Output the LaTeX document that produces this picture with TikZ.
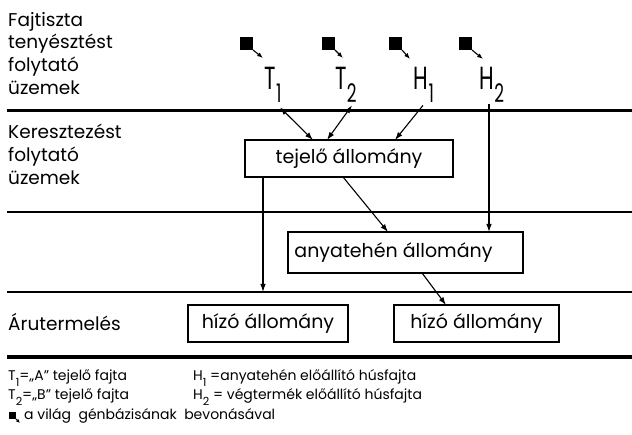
\documentclass[tikz,border=0pt]{standalone}
\usepackage{fontspec}
\setmainfont{Poppins}
\newfontfamily\labfont[FakeStretch=0.66]{Poppins}
\usetikzlibrary{arrows.meta,calc}
\newcommand\dsub[1]{\raisebox{-0.38em}{\scalebox{0.8}{#1}}}
\begin{document}
\begin{tikzpicture}[x=1pt,y=-1pt,
  sect/.style={font=\fontsize{18.5}{22.7}\selectfont, align=left, anchor=north west, inner sep=0},
  box/.style={draw, line width=1.4pt, font=\fontsize{19}{22}\selectfont, inner sep=0, outer sep=0, anchor=north west},
  sq/.style={fill=black, draw=none, minimum size=13pt, inner sep=0, outer sep=0},
  lab/.style={font=\labfont\fontsize{32}{32}\selectfont, inner sep=0, anchor=base},
  leg/.style={font=\fontsize{14}{16}\selectfont, inner sep=0, anchor=base west},
  arr/.style={line width=1.1pt, -{Latex[length=8pt,width=5.5pt]}},
  darr/.style={line width=1.1pt, {Latex[length=8pt,width=5.5pt]}-{Latex[length=8pt,width=5.5pt]}},
  sarr/.style={line width=1.1pt, -{Latex[length=6pt,width=4.5pt]}},
  thick rule/.style={line width=3pt},
  thin rule/.style={line width=1.7pt}]
\useasboundingbox (0,0) rectangle (632,435);

% section labels
\node[sect] (sec1) at (8,12) {Fajtiszta\\tenyésztést\\folytató\\üzemek};
\node[sect] (sec2) at (8,124) {Keresztezést\\folytató\\üzemek};
\node[sect, anchor=base west] (sec3) at (8,331) {Árutermelés};

% rules
\draw[thick rule] (7,111) -- (632,111);
\draw[thin rule] (7,212) -- (632,212);
\draw[thin rule] (7,292) -- (632,292);
\draw[line width=3.5pt] (7,357) -- (632,357);

% breed squares and labels
\node[sq] (s1) at (246.5,43.5) {};
\node[sq] (s2) at (328.5,43.5) {};
\node[sq] (s3) at (395.5,43.5) {};
\node[sq] (s4) at (465.5,43.5) {};
\node[lab] (t1) at (273,90) {T\dsub{1}};
\node[lab] (t2) at (346,90) {T\dsub{2}};
\node[lab] (h1) at (424,90) {H\dsub{1}};
\node[lab] (h2) at (492,90) {H\dsub{2}};
\draw[sarr] (s1.south east) -- ($(s1.south east)+(10,8)$);
\draw[sarr] (s2.south east) -- ($(s2.south east)+(8,8)$);
\draw[sarr] (s3.south east) -- ($(s3.south east)+(8,9)$);
\draw[sarr] (s4.south east) -- ($(s4.south east)+(11,9)$);

% boxes
\node[box, minimum width=208pt, minimum height=37pt] (tej) at (245,140) {tejelő állomány};
\node[box, minimum width=235pt, minimum height=41pt] (anya) at (288,232) {\hspace*{-24pt}anyatehén állomány};
\node[box, minimum width=160pt, minimum height=37pt] (hiz1) at (188,305) {hízó állomány};
\node[box, minimum width=165pt, minimum height=37pt] (hiz2) at (394,305) {hízó állomány};
\coordinate (mkt) at (263,292);

% connectors
\draw[darr] ($(t1.south)+(7,5)$) -- ($(tej.north west)+(68,0)$);
\draw[darr] ($(t2.south)+(6,3)$) -- ($(tej.north west)+(82,0)$);
\draw[arr] ($(h1.south)+(-1,3)$) -- ($(tej.north west)+(150,0)$);
\draw[arr] ($(h2.south)+(-3,2)$) -- ($(anya.north west)+(201,0)$);
\draw[arr] ($(tej.south west)+(18,0)$) -- (mkt);
\draw[arr] ($(tej.south west)+(98,0)$) -- ($(anya.north west)+(100,0)$);
\draw[arr] ($(anya.south west)+(134,0)$) -- ($(hiz2.north west)+(52,0)$);

% legend
\node[leg] (l1) at (8,381) {T\dsub{1}=„A” tejelő fajta};
\node[leg] (l2) at (8,400) {T\dsub{2}=„B” tejelő fajta};
\node[leg] (l3) at (193,381) {H\dsub{1} =anyatehén előállító húsfajta};
\node[leg] (l4) at (193,400) {H\dsub{2} = végtermék előállító húsfajta};
\node[fill=black, minimum size=7pt, inner sep=0, outer sep=0] (lsq) at (12.5,415.5) {};
\draw[line width=0.9pt, -{Latex[length=4pt,width=3.5pt]}] (lsq.south east) -- ($(lsq.south east)+(4,4)$);
\node[leg] (l5) at (24,420) {a világ \ génbázisának \ bevonásával};
\end{tikzpicture}
\end{document}
